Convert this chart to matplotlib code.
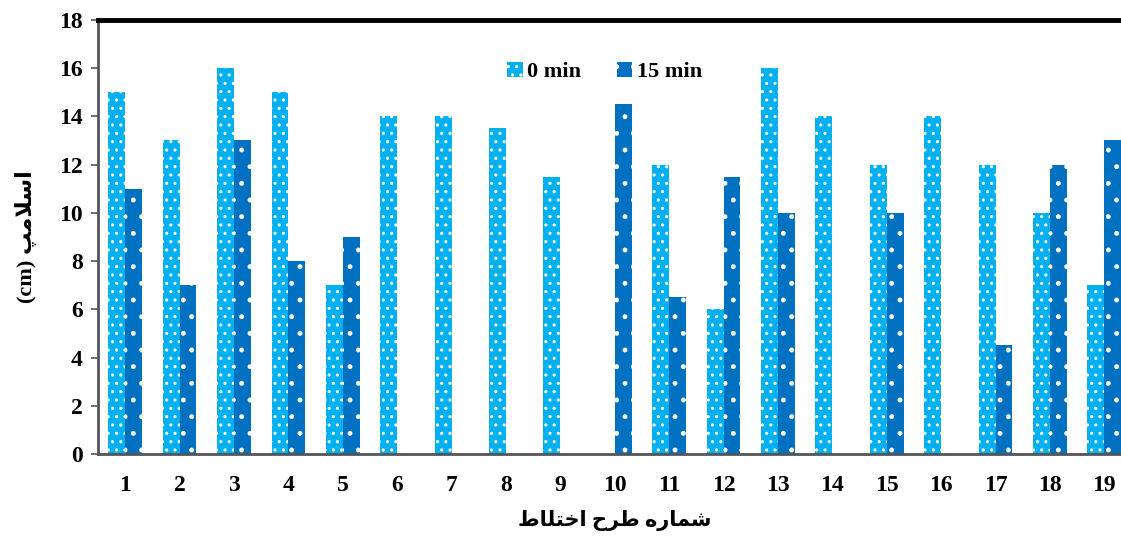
import numpy as np
import matplotlib
matplotlib.use("Agg")
import matplotlib.pyplot as plt

plt.rcParams['font.family'] = ['Liberation Serif', 'DejaVu Sans']
plt.rcParams['font.weight'] = 'bold'
plt.rcParams['hatch.linewidth'] = 1.1

# mix design number and slump (cm) at 0 and 15 minutes
mixes = list(range(1, 20))
slump_0 = [15, 13, 16, 15, 7, 14, 14, 13.5, 11.5, 0, 12, 6, 16, 14, 12, 14, 12, 10, 7]
slump_15 = [11, 7, 13, 8, 9, 0, 0, 0, 0, 14.5, 6.5, 11.5, 10, 0, 10, 0, 4.5, 12, 13]
series_names = ['0 min', '15 min']

# persian labels written with presentation forms, in visual order
xlabel_fa = '\uFEC1\uFE8E\uFEE0\uFE98\uFEA7\uFE8D \uFEA1\uFEAE\uFEC3 \uFEE9\uFEAD\uFE8E\uFEE4\uFEB7'
ylabel_fa = '(cm) \uFB57\uFEE3\uFEFC\uFEB3\uFE8D'

c_light = '#00B0F0'
c_dark = '#0070C0'

fig = plt.figure(figsize=(11.21, 5.36), dpi=100)
ax = fig.add_axes([0.0874, 0.153, 0.922, 0.81])

x = np.array(mixes)
w = 0.31
ax.bar(x - w / 2, slump_0, w, color=c_light, edgecolor='white', lw=0,
       hatch='..', label=series_names[0])
ax.bar(x + w / 2, slump_15, w, color=c_dark, edgecolor='white', lw=0,
       hatch='.', label=series_names[1])

ax.set_xlim(0.5, 19.5)
ax.set_ylim(0, 18)
ax.set_yticks(np.arange(0, 19, 2))
ax.set_xticks(x)
ax.set_xticklabels([str(m) for m in mixes])

ax.tick_params(axis='y', labelsize=17, length=5, width=1.2, color='#555555', pad=6)
ax.tick_params(axis='x', labelsize=17, length=0, pad=15)
for lab in ax.get_xticklabels() + ax.get_yticklabels():
    lab.set_fontweight('bold')

for s in ['left', 'bottom']:
    ax.spines[s].set_color('#555555')
    ax.spines[s].set_linewidth(2)
ax.spines['top'].set_color('black')
ax.spines['top'].set_linewidth(3.5)
ax.spines['right'].set_visible(False)

ax.set_xlabel(xlabel_fa, fontsize=15, fontweight='bold', labelpad=10)
ax.set_ylabel(ylabel_fa, fontsize=16, fontweight='bold', labelpad=16)

ax.legend(loc='center', bbox_to_anchor=(0.49, 0.88), ncol=2, frameon=False,
          prop={'size': 16, 'weight': 'bold'}, handlelength=0.7,
          handleheight=0.7, handletextpad=0.2, columnspacing=1.6)

fig.savefig('out.png', dpi=100)
